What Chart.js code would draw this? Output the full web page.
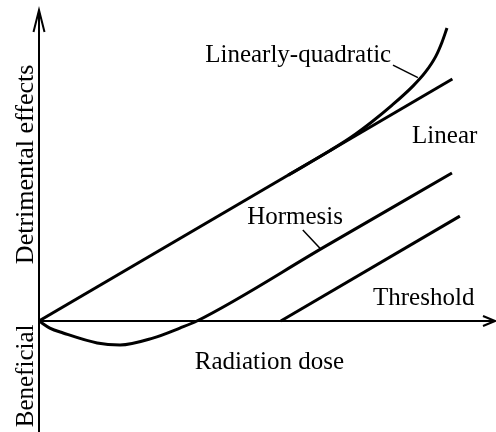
<!DOCTYPE html>
<html>
<head>
<meta charset="utf-8">
<script src="https://cdn.jsdelivr.net/npm/chart.js@4/dist/chart.umd.min.js"></script>
<style>
  html, body { margin: 0; padding: 0; background: #fff; }
  #wrap { width: 496px; height: 432px; position: relative; }
</style>
</head>
<body>
<div id="wrap"><canvas id="doseChart"></canvas></div>
<script>
// dose (x) and effect (y) in arbitrary units
const linearDose = [0, 9.95];
const linearEffect = [0, 9.92];

// the linearly-quadratic curve runs on the linear one up to about dose 7
const lqDose = [6.0, 7.0, 7.5, 8.0, 8.5, 9.0, 9.3, 9.55, 9.70, 9.82];
const lqEffect = [5.98, 6.98, 7.52, 8.15, 8.85, 9.63, 10.2, 10.85, 11.43, 12.01];

const hormesisDose = [0, 0.26, 0.58, 1.40, 1.95, 2.74, 3.39, 3.80, 6.9, 9.94];
const hormesisEffect = [0, -0.29, -0.49, -0.90, -0.98, -0.70, -0.29, 0, 3.07, 6.07];

const thresholdDose = [5.82, 10.13];
const thresholdEffect = [0, 4.30];

const toPoints = (xs, ys) => xs.map((x, i) => ({ x: x, y: ys[i] }));

function curve(data, mode) {
    return {
        data: data,
        borderColor: '#000',
        borderWidth: 3,
        pointRadius: 0,
        fill: false,
        cubicInterpolationMode: mode || 'default',
        tension: 0
    };
}

// text annotations, in data units
const notes = [
    { text: 'Linearly-quadratic', x: 4.00, y: 10.62 },
    { text: 'Linear', x: 8.98, y: 7.30 },
    { text: 'Hormesis', x: 5.01, y: 3.98 },
    { text: 'Threshold', x: 8.04, y: 0.66 },
    { text: 'Radiation dose', x: 3.75, y: -1.97 }
];
const leaders = [
    [8.52, 10.49, 9.12, 9.98],
    [6.35, 3.73, 6.78, 2.95]
];

const axesPlugin = {
    id: 'axes',
    beforeDatasetsDraw(chart) {
        const { ctx, scales: { x, y } } = chart;
        const x0 = x.getPixelForValue(0);
        const y0 = y.getPixelForValue(0);
        const yTop = y.getPixelForValue(y.max);
        const xEnd = x.getPixelForValue(x.max);
        ctx.save();
        ctx.strokeStyle = '#000';
        ctx.lineWidth = 2;
        ctx.lineCap = 'butt';
        // vertical axis
        ctx.beginPath();
        ctx.moveTo(x0, chart.height);
        ctx.lineTo(x0, yTop + 1);
        ctx.stroke();
        ctx.beginPath();
        ctx.moveTo(x0 - 5.5, yTop + 22);
        ctx.lineTo(x0, yTop);
        ctx.lineTo(x0 + 5.5, yTop + 22);
        ctx.stroke();
        // horizontal axis
        ctx.beginPath();
        ctx.moveTo(x0, y0);
        ctx.lineTo(xEnd - 1, y0);
        ctx.stroke();
        ctx.beginPath();
        ctx.moveTo(xEnd - 13, y0 - 5);
        ctx.lineTo(xEnd - 1, y0);
        ctx.lineTo(xEnd - 13, y0 + 5);
        ctx.stroke();
        ctx.restore();
    },
    afterDatasetsDraw(chart) {
        const { ctx, scales: { x, y } } = chart;
        ctx.save();
        ctx.fillStyle = '#000';
        ctx.strokeStyle = '#000';
        ctx.font = '25px "Liberation Serif", "Times New Roman", serif';
        ctx.textAlign = 'left';
        ctx.textBaseline = 'alphabetic';
        notes.forEach(n => {
            ctx.fillText(n.text, x.getPixelForValue(n.x), y.getPixelForValue(n.y));
        });
        ctx.lineWidth = 1.5;
        leaders.forEach(l => {
            ctx.beginPath();
            ctx.moveTo(x.getPixelForValue(l[0]), y.getPixelForValue(l[1]));
            ctx.lineTo(x.getPixelForValue(l[2]), y.getPixelForValue(l[3]));
            ctx.stroke();
        });
        // rotated axis titles
        const bx = x.getPixelForValue(-0.144);
        ctx.textAlign = 'center';
        ctx.save();
        ctx.translate(bx, y.getPixelForValue(6.42));
        ctx.rotate(-Math.PI / 2);
        ctx.font = '26px "Liberation Serif", "Times New Roman", serif';
        ctx.fillText('Detrimental effects', 0, 0);
        ctx.restore();
        ctx.save();
        ctx.translate(bx, y.getPixelForValue(-2.25));
        ctx.rotate(-Math.PI / 2);
        ctx.fillText('Beneficial', 0, 0);
        ctx.restore();
        ctx.restore();
    }
};

const ctx = document.getElementById('doseChart').getContext('2d');
new Chart(ctx, {
    type: 'line',
    data: {
        datasets: [
            curve(toPoints(linearDose, linearEffect)),
            curve(toPoints(lqDose, lqEffect), 'monotone'),
            curve(toPoints(hormesisDose, hormesisEffect), 'monotone'),
            curve(toPoints(thresholdDose, thresholdEffect))
        ]
    },
    options: {
        responsive: true,
        maintainAspectRatio: false,
        animation: false,
        layout: { padding: { left: 39, top: 10, right: 0, bottom: 0 } },
        plugins: {
            legend: { display: false },
            tooltip: { enabled: false },
            title: { display: false }
        },
        scales: {
            x: { type: 'linear', min: 0, max: 11, display: false },
            y: { type: 'linear', min: -4.55, max: 12.75, display: false }
        }
    },
    plugins: [axesPlugin]
});
</script>
</body>
</html>
